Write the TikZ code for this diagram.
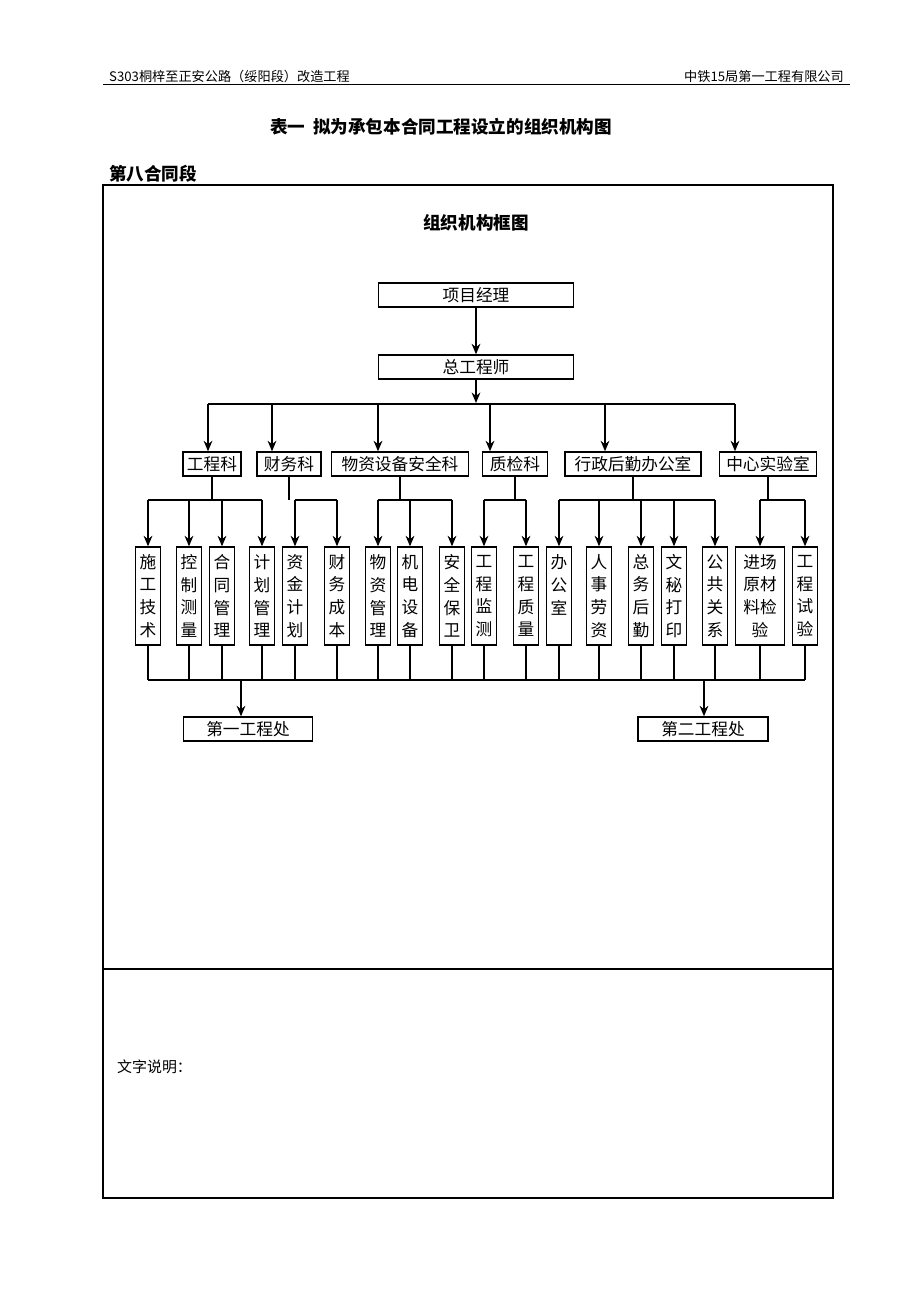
\documentclass[tikz,border=0pt]{standalone}
\usepackage{fontspec}
\setmainfont{Liberation Serif}
\newfontfamily\cjk{Noto Sans CJK SC}
\usetikzlibrary{arrows.meta}
\tikzset{
  box/.style={draw, thick, inner sep=0pt, font=\cjk\fontsize{9.5}{13}\selectfont},
  hbox/.style={box, minimum height=0.48cm},
  vbox/.style={box, minimum width=0.5cm, minimum height=1.96cm, align=center},
  line/.style={thick},
  arr/.style={thick, -{Stealth[length=6pt,width=5pt]}}
}
\begin{document}
\begin{tikzpicture}[x=0.02cm,y=-0.02cm]
  \useasboundingbox (0,0) rectangle (920,1302);
  % header
  \node[anchor=base west, font=\cjk\fontsize{7.5}{9}\selectfont] (hl) at (103,81) {S303桐梓至正安公路（绥阳段）改造工程};
  \node[anchor=base east, font=\cjk\fontsize{7.5}{9}\selectfont] (hr) at (850,81) {中铁15局第一工程有限公司};
  \draw (103,84) -- (850,84);
  \node[font=\cjk\bfseries\fontsize{10}{12}\selectfont] (title) at (441,127) {表一\ \ 拟为承包本合同工程设立的组织机构图};
  \node[anchor=west, font=\cjk\bfseries\fontsize{10}{12}\selectfont] (sect) at (103,174) {第八合同段};
  % frame
  \draw[thick] (103,185) rectangle (833,1198);
  \draw[thick] (103,969) -- (833,969);
  \node[font=\cjk\bfseries\fontsize{10}{12}\selectfont] (frame) at (476,223) {组织机构框图};
  \node[anchor=west, font=\cjk\fontsize{8.5}{10}\selectfont] (note) at (111,1067) {文字说明：};

  % top levels
  \node[hbox, minimum width=3.9cm] (pm) at (476,295) {项目经理};
  \node[hbox, minimum width=3.9cm] (ce) at (476,367) {总工程师};
  \draw[arr] (pm) -- (ce);
  \draw[arr] (ce) -- (476,403);
  \draw[line] (208,404) -- (735,404);

  % departments
  \node[hbox, minimum width=1.16cm] (gck) at (212,464) {工程科};
  \node[hbox, minimum width=1.28cm] (cwk) at (289,464) {财务科};
  \node[hbox, minimum width=2.74cm] (wzk) at (400,464) {物资设备安全科};
  \node[hbox, minimum width=1.30cm] (zjk) at (515,464) {质检科};
  \node[hbox, minimum width=2.72cm] (xzk) at (633,464) {行政后勤办公室};
  \node[hbox, minimum width=1.94cm] (syk) at (768,464) {中心实验室};
  \foreach \n/\x in {gck/208, cwk/272, wzk/378, zjk/490, xzk/605, syk/735}
    \draw[arr] (\x,404) -- (\x,0 |- \n.north);

  % sections
  \foreach \n/\x/\t in {s1/148/施\\工\\技\\术, s2/189/控\\制\\测\\量, s3/222/合\\同\\管\\理,
      s4/262/计\\划\\管\\理, s5/295/资\\金\\计\\划, s6/337/财\\务\\成\\本,
      s7/378/物\\资\\管\\理, s8/410/机\\电\\设\\备, s9/452/安\\全\\保\\卫,
      s10/484/工\\程\\监\\测, s11/526/工\\程\\质\\量, s12/559/办\\公\\室\\{},
      s13/599/人\\事\\劳\\资, s14/641/总\\务\\后\\勤, s15/674/文\\秘\\打\\印,
      s16/715/公\\共\\关\\系, s18/805/工\\程\\试\\验}
    \node[vbox] (\n) at (\x,596) {\t};
  \node[vbox, minimum width=0.98cm] (s17) at (760,596) {进场\\原材\\料检\\验};

  % department to sections
  \foreach \p/\a/\b/\l in {gck/s1/s4/{s1,s2,s3,s4}, cwk/s5/s6/{s5,s6}, wzk/s7/s9/{s7,s8,s9},
      zjk/s10/s11/{s10,s11}, xzk/s12/s16/{s12,s13,s14,s15,s16}, syk/s17/s18/{s17,s18}} {
    \draw[line] (\p.south) -- (\p.south |- 0,500);
    \draw[line] (\a.north |- 0,500) -- (\b.north |- 0,500);
    \foreach \c in \l
      \draw[arr] (\c.north |- 0,500) -- (\c.north);
  }

  % sections to sites
  \foreach \c in {s1,s2,s3,s4,s5,s6,s7,s8,s9,s10,s11,s12,s13,s14,s15,s16,s17,s18}
    \draw[line] (\c.south) -- (\c.south |- 0,680);
  \draw[line] (s1.south |- 0,680) -- (s18.south |- 0,680);
  \node[hbox, minimum width=2.58cm] (site1) at (248,729) {第一工程处};
  \node[hbox, minimum width=2.6cm] (site2) at (703,729) {第二工程处};
  \draw[arr] (241,680) -- (241,0 |- site1.north);
  \draw[arr] (704,680) -- (704,0 |- site2.north);
\end{tikzpicture}
\end{document}
